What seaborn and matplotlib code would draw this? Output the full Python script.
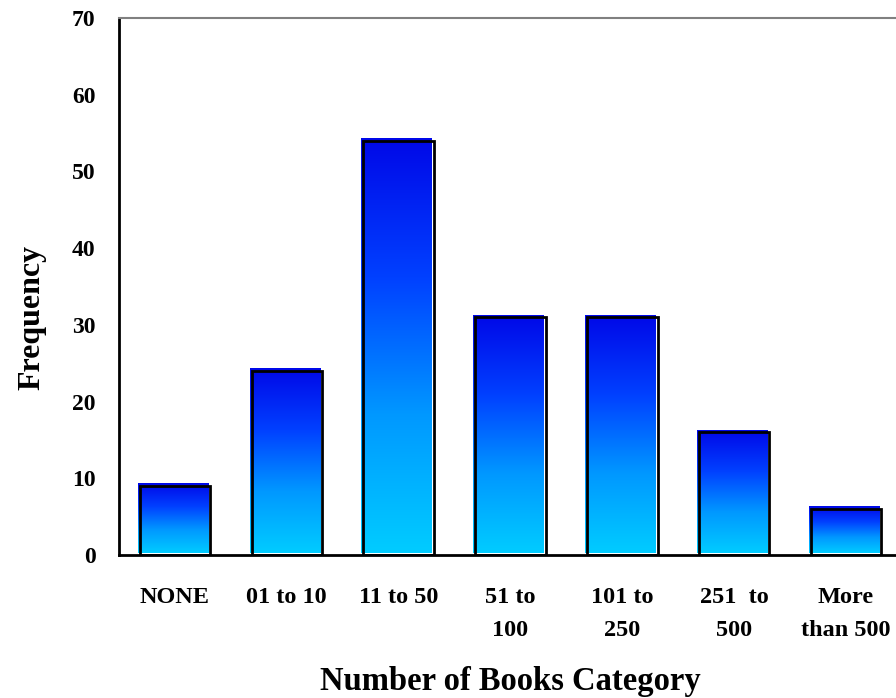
import numpy as np
import pandas as pd
import matplotlib
matplotlib.use("Agg")
import matplotlib.pyplot as plt
import seaborn as sns
from matplotlib.colors import LinearSegmentedColormap

# dados
categorias = ["NONE", "01 to 10", "11 to 50", "51 to\n100", "101 to\n250",
              "251  to\n500", "More\nthan 500"]
frequencia = [9, 24, 54, 31, 31, 16, 6]
y_ticks = [0, 10, 20, 30, 40, 50, 60, 70]

df = pd.DataFrame({"categoria": categorias, "frequencia": frequencia})

sns.set_style("white")
plt.rcParams["font.family"] = ["Liberation Serif", "DejaVu Serif"]
plt.rcParams["font.weight"] = "bold"
plt.rcParams["text.color"] = "black"
plt.rcParams["axes.labelcolor"] = "black"
plt.rcParams["xtick.color"] = "black"
plt.rcParams["ytick.color"] = "black"

fig = plt.figure(figsize=(8.96, 6.98), dpi=100)
ax = fig.add_axes([119 / 896, 143 / 698, 783 / 896, 537 / 698])

sns.barplot(data=df, x="categoria", y="frequencia", ax=ax, width=0.63,
            facecolor="none", edgecolor="black", linewidth=2, zorder=3)

ax.set_xlim(-0.5, 6.5)
ax.set_ylim(0, 70)
ax.set_yticks(y_ticks)

# gradiente azul escuro -> ciano em cada barra, deslocado um pouco (sombra do contorno)
cmap = LinearSegmentedColormap.from_list("azul", ["#00CCFF", "#0098FF", "#0040FF", "#0008E8"])
grad = np.linspace(0, 1, 256).reshape(-1, 1)
inv = ax.transData.inverted()
p0 = inv.transform((0, 0))
p1 = inv.transform((2, 2))
dx, dy = p1[0] - p0[0], p1[1] - p0[1]
for p in list(ax.patches):
    x, w, h = p.get_x(), p.get_width(), p.get_height()
    ax.imshow(grad, cmap=cmap, origin="lower", aspect="auto", zorder=2,
              extent=[x - dx, x + w - dx, dy, h + dy], interpolation="bilinear")
ax.set_xlim(-0.5, 6.5)
ax.set_ylim(0, 70)

# eixos
for s in ["left", "bottom"]:
    ax.spines[s].set_linewidth(2)
    ax.spines[s].set_color("black")
ax.spines["top"].set_color("#808080")
ax.spines["top"].set_linewidth(1.5)
ax.spines["right"].set_visible(False)

ax.set_xticks(range(7))
ax.set_xticklabels(categorias, fontsize=17.5, fontweight="bold", linespacing=1.75)
ax.set_xticks(np.arange(-0.5, 7, 1), minor=True)
ax.tick_params(axis="x", which="major", length=0, pad=23)
ax.tick_params(axis="x", which="minor", length=9, width=1.5, direction="out")
ax.tick_params(axis="y", length=8, width=1.5, direction="out", pad=9, labelsize=17)
for t in ax.get_yticklabels():
    t.set_fontweight("bold")

ax.set_xlabel("Number of Books Category", fontsize=23.5, fontweight="bold")
ax.xaxis.set_label_coords(0.5, -0.207)
ax.set_ylabel("Frequency", fontsize=23, fontweight="bold")
ax.yaxis.set_label_coords(-0.093, 0.443)

plt.savefig("out.png", dpi=100)
plt.close()
